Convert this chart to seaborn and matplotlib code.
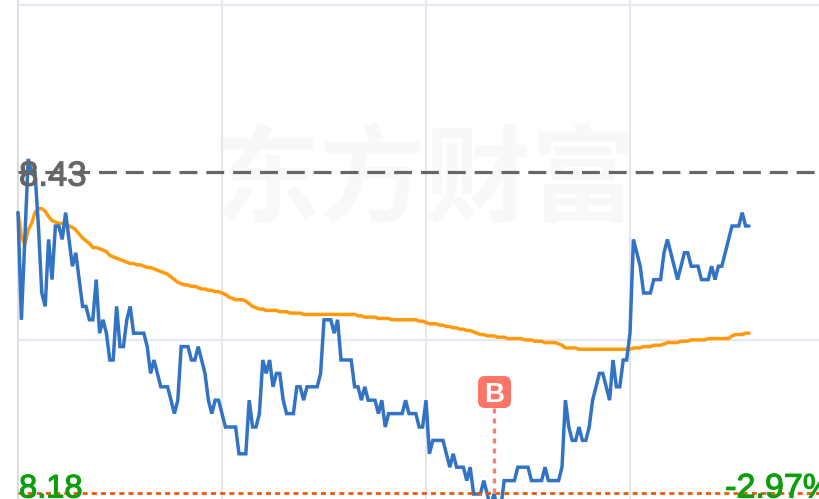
import matplotlib
matplotlib.use("Agg")
import matplotlib.pyplot as plt
import matplotlib.patheffects as pe
from matplotlib.patches import FancyBboxPatch
from matplotlib.transforms import IdentityTransform
import numpy as np
import pandas as pd
import seaborn as sns

price_cents = [
    839,831,837,843,842,842,838,833,832,837,
    834,838,838,837,839,837,835,836,834,832,
    832,831,831,834,830,831,830,828,828,832,
    829,829,831,832,830,830,830,830,829,827,
    828,827,826,826,826,825,824,825,829,829,
    829,828,828,829,828,827,825,824,825,825,
    824,823,823,823,823,821,821,821,825,823,
    823,824,828,827,828,826,827,827,825,824,
    824,824,826,826,825,826,826,826,826,827,
    831,831,831,830,831,828,828,828,828,826,
    826,825,826,825,825,825,824,825,823,824,
    824,824,824,824,825,824,824,824,823,823,
    825,821,822,822,822,822,821,820,821,820,
    820,820,819,820,818,818,818,819,818,817,
    818,817,817,819,819,819,819,820,820,820,
    820,819,819,819,819,820,819,819,819,819,
    820,825,823,822,822,823,822,822,823,825,
    826,827,827,826,825,828,826,826,828,828,
    830,837,836,835,833,833,833,834,834,834,
    836,837,836,835,834,835,836,836,835,835,
    835,834,834,834,835,834,835,835,836,837,
    838,838,838,839,838,838,
]
avg_mills = [
    8390,8372,8366,8377,8382,8390,8393,8393,8391,8387,
    8384,8383,8382,8382,8382,8380,8379,8377,8374,8371,
    8369,8367,8364,8364,8363,8362,8361,8358,8357,8356,
    8355,8354,8353,8352,8352,8351,8351,8350,8349,8349,
    8348,8347,8346,8345,8344,8342,8340,8338,8337,8336,
    8336,8335,8335,8334,8333,8333,8332,8332,8331,8331,
    8330,8329,8327,8326,8325,8325,8325,8324,8322,8320,
    8319,8318,8318,8317,8317,8317,8317,8316,8316,8316,
    8315,8315,8315,8315,8314,8314,8314,8314,8314,8314,
    8314,8314,8314,8314,8314,8314,8314,8314,8314,8314,
    8313,8313,8312,8312,8312,8312,8311,8311,8311,8311,
    8310,8310,8310,8310,8310,8310,8310,8310,8309,8309,
    8308,8307,8307,8307,8306,8306,8305,8305,8304,8304,
    8303,8303,8302,8302,8301,8300,8299,8299,8298,8298,
    8298,8297,8297,8297,8296,8296,8296,8296,8296,8295,
    8295,8295,8294,8294,8294,8293,8293,8293,8293,8292,
    8291,8289,8289,8289,8289,8288,8288,8288,8288,8288,
    8288,8288,8288,8288,8288,8288,8288,8288,8288,8288,
    8288,8289,8289,8289,8290,8290,8290,8291,8291,8291,
    8292,8293,8293,8293,8293,8294,8294,8294,8295,8295,
    8295,8295,8295,8296,8296,8296,8296,8296,8296,8296,
    8298,8299,8299,8299,8300,8300,
]
prev_label = "8.43"
low_label = "8.18"
low_pct_label = "-2.97%"
watermark = "东方财富"
trade_label = "B"

prev_level = 8.4203
low_level = 8.1807
mid_level = 8.2949
top_level = 8.5449
trade_minute = 140
grid_minutes = [60, 120, 180]

sns.set_style("white")
plt.rcParams["font.family"] = ["Liberation Sans", "Noto Sans CJK SC", "DejaVu Sans"]

minutes = np.arange(len(price_cents))
df = pd.DataFrame({
    "minute": minutes,
    "price": np.array(price_cents) / 100,
    "avg": np.array(avg_mills) / 1000,
})

fig = plt.figure(figsize=(8.19, 4.99), dpi=100)
ax = fig.add_axes([0, 0, 1, 1])
xmax = (819 - 18) / 3.4
ybase = 8.18 - 5 / 1340
ax.set_xlim(-18 / 3.4, xmax)
ax.set_ylim(ybase, 8.18 + 494 / 1340)

GRID = "#e3e7ef"
ax.axvline(0, color="#d3d6de", lw=1.1, zorder=1)
for m in grid_minutes:
    ax.axvline(m, color=GRID, lw=1.5, zorder=1)
for lv in (mid_level, top_level):
    ax.plot([0, xmax], [lv, lv], color=GRID, lw=1.5, zorder=1)

ax.text(0.5 * (grid_minutes[0] + grid_minutes[2]), prev_level - 0.0075, watermark,
        fontsize=76, fontweight="bold", color="#f8f8f8", ha="center", va="center",
        family=["Noto Sans CJK SC"], zorder=0)

sns.lineplot(data=df, x="minute", y="avg", color="#ff9a0c", lw=2.5, ax=ax, zorder=3,
             estimator=None, legend=False)
sns.lineplot(data=df, x="minute", y="price", color="#3273c4", lw=2.5, ax=ax, zorder=4,
             estimator=None, legend=False, solid_joinstyle="miter")
ax.set_xlim(-18 / 3.4, xmax)
ax.set_ylim(ybase, 8.18 + 494 / 1340)
ax.axis("off")

ax.plot([0, xmax], [prev_level, prev_level], color="#666666", lw=2.3, dashes=(5.6, 2.8), zorder=5)
ax.plot([0, xmax], [low_level, low_level], color="#e8590c", lw=2.0, dashes=(1.8, 1.5), zorder=5)
ax.plot([trade_minute, trade_minute], [low_level, 8.2442], color="#fd7f73", lw=2.4,
        dashes=(1.5, 1.5), zorder=5)

cx, cy = ax.transData.transform((trade_minute, 8.2561))
ax.add_patch(FancyBboxPatch((cx - 16.5 + 0.5, cy - 16), 33, 32,
                            boxstyle="round,pad=0,rounding_size=7", fc="#fd7568", ec="none",
                            transform=IdentityTransform(), zorder=6))
ax.text(trade_minute + 0.15, 8.2561, trade_label, color="white", fontsize=20, fontweight="bold",
        ha="center", va="center_baseline", zorder=7)

stroke_grey = [pe.withStroke(linewidth=0.8, foreground="#666666")]
stroke_green = [pe.withStroke(linewidth=0.8, foreground="#0c9e0c")]
ax.text(0.3, prev_level - 0.0005, prev_label, color="#666666", fontsize=25, ha="left",
        va="center_baseline", zorder=6, path_effects=stroke_grey)
ax.text(0.3, ybase + 1.5 / 1340, low_label, color="#0c9e0c", fontsize=23.5, ha="left",
        va="baseline", zorder=6, path_effects=stroke_green)
ax.text(208, ybase + 1.5 / 1340, low_pct_label, color="#0c9e0c", fontsize=24.5, ha="left",
        va="baseline", zorder=6, path_effects=stroke_green)

fig.savefig("out.png", dpi=100)
